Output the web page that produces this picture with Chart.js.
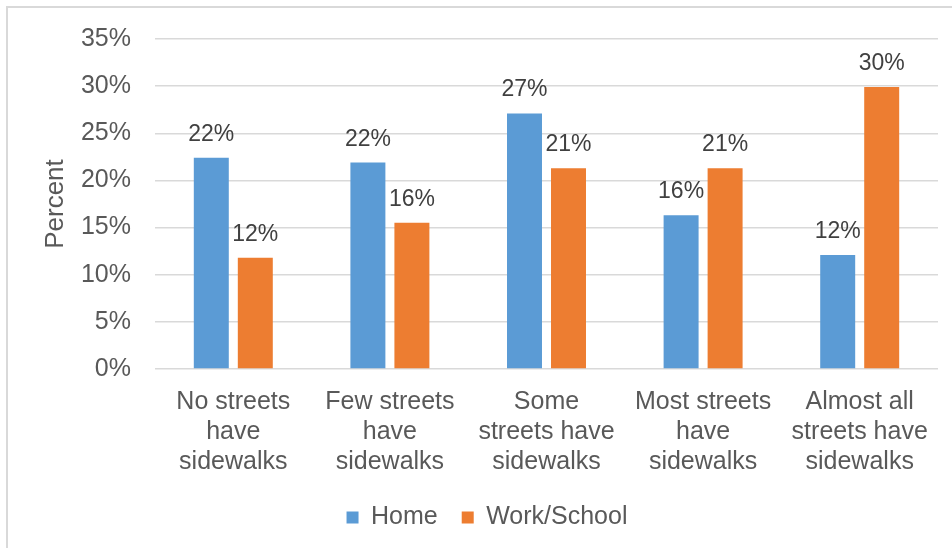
<!DOCTYPE html>
<html>
<head>
<meta charset="utf-8">
<script src="https://cdn.jsdelivr.net/npm/chart.js@4.4.1/dist/chart.umd.min.js"></script>
<style>
  html, body { margin: 0; padding: 0; background: #ffffff; }
  #chart { display: block; }
</style>
</head>
<body>
<canvas id="chart" width="952" height="548"></canvas>
<script>
// Data
const categories = [
  ['No streets', 'have', 'sidewalks'],
  ['Few streets', 'have', 'sidewalks'],
  ['Some', 'streets have', 'sidewalks'],
  ['Most streets', 'have', 'sidewalks'],
  ['Almost all', 'streets have', 'sidewalks']
];
const seriesNames = ['Home', 'Work/School'];
const homeValues = [22.4, 21.9, 27.1, 16.3, 12.1];
const workValues = [11.8, 15.5, 21.3, 21.3, 29.9];
const yTicks = [0, 5, 10, 15, 20, 25, 30, 35];

const FONT = "'Liberation Sans', Arial, sans-serif";

/**
 * Light frame along the top and left edge, like the original export
 */
const framePlugin = {
  id: 'frame',
  beforeDraw(chart) {
    const ctx = chart.ctx;
    ctx.save();
    ctx.fillStyle = '#d9d9d9';
    ctx.fillRect(6, 6, chart.width - 6, 2);
    ctx.fillRect(6, 6, 2, chart.height - 6);
    ctx.restore();
  }
};

/**
 * Value labels above each bar
 */
const valueLabels = {
  id: 'valueLabels',
  afterDatasetsDraw(chart) {
    const ctx = chart.ctx;
    ctx.save();
    ctx.font = `23px ${FONT}`;
    ctx.fillStyle = '#404040';
    ctx.textAlign = 'center';
    ctx.textBaseline = 'alphabetic';
    chart.data.datasets.forEach((ds, i) => {
      chart.getDatasetMeta(i).data.forEach((bar, j) => {
        ctx.fillText(Math.round(ds.data[j]) + '%', bar.x, bar.y - 17);
      });
    });
    ctx.restore();
  }
};

new Chart(document.getElementById('chart').getContext('2d'), {
  type: 'bar',
  data: {
    labels: categories,
    datasets: [{
      label: seriesNames[0],
      data: homeValues,
      backgroundColor: '#5b9bd5',
      categoryPercentage: 0.562,
      barPercentage: 0.795
    }, {
      label: seriesNames[1],
      data: workValues,
      backgroundColor: '#ed7d31',
      categoryPercentage: 0.562,
      barPercentage: 0.795
    }]
  },
  options: {
    responsive: false,
    animation: false,
    layout: {
      padding: { left: 36, right: 14, top: 32, bottom: 8 }
    },
    scales: {
      x: {
        grid: { display: false, drawTicks: false },
        border: { display: false },
        ticks: {
          padding: 18,
          color: '#595959',
          maxRotation: 0,
          autoSkip: false,
          font: { family: FONT, size: 25, lineHeight: 1.2 }
        },
        afterFit(scale) {
          scale.height = 112;
        }
      },
      y: {
        min: 0,
        max: 35,
        afterBuildTicks(scale) {
          scale.ticks = yTicks.map(v => ({ value: v }));
        },
        grid: { color: '#d9d9d9', lineWidth: 1.5, drawTicks: false },
        border: { display: false },
        ticks: {
          padding: 24,
          color: '#595959',
          font: { family: FONT, size: 25 },
          callback: function (value) {
            return value + '%';
          }
        },
        title: {
          display: true,
          text: 'Percent',
          color: '#595959',
          padding: { top: 4, bottom: 4 },
          font: { family: FONT, size: 26, lineHeight: 1.2 }
        },
        afterFit(scale) {
          scale.width = 119;
        }
      }
    },
    plugins: {
      legend: {
        position: 'bottom',
        labels: {
          boxWidth: 12,
          boxHeight: 12,
          padding: 24,
          color: '#595959',
          font: { family: FONT, size: 25 }
        }
      },
      tooltip: { enabled: false }
    }
  },
  plugins: [framePlugin, valueLabels]
});
</script>
</body>
</html>
